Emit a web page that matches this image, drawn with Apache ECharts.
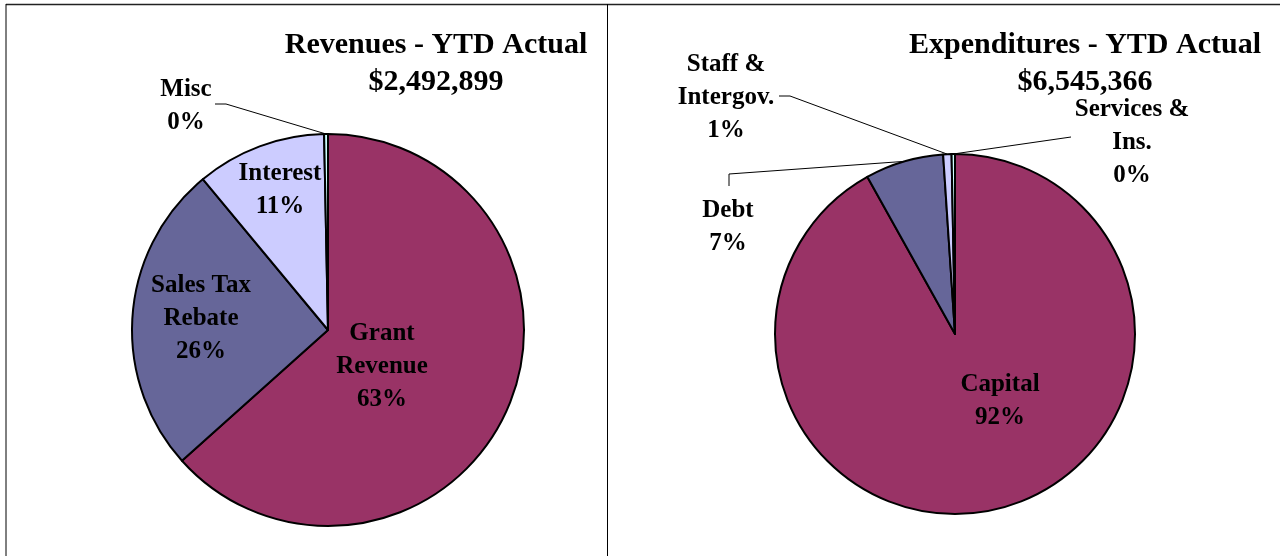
<!DOCTYPE html>
<html>
<head>
<meta charset="utf-8">
<script src="https://cdn.jsdelivr.net/npm/echarts@6/dist/echarts.min.js"></script>
<style>
  html, body { margin: 0; padding: 0; background: #ffffff; }
  #chart { width: 1280px; height: 556px; }
</style>
</head>
<body>
<div id="chart"></div>
<script>
// Year-to-date revenue breakdown
const revenueCategories = ['Grant\nRevenue', 'Sales Tax\nRebate', 'Interest', 'Misc'];
const revenueValues = [1580000, 638000, 267000, 7899];
const revenueTitle = 'Revenues - YTD Actual';
const revenueTotal = '$2,492,899';

// Year-to-date expenditure breakdown
const expenditureCategories = ['Capital', 'Debt', 'Staff &\nIntergov.', 'Services &\nIns.'];
const expenditureValues = [6015000, 461500, 49000, 19866];
const expenditureTitle = 'Expenditures - YTD Actual';
const expenditureTotal = '$6,545,366';

const sliceColors = ['#993366', '#666699', '#CCCCFF', '#CCFFFF'];
const serifFont = '"Liberation Serif", "Times New Roman", serif';

// Where each slice label sits; "leader" gives the bend and end of its guide line
const revenueLabelSpots = [
  { x: 382, y: 367 },
  { x: 201, y: 319 },
  { x: 280, y: 190 },
  { x: 186, y: 106, leader: [[226, 104], [215, 104]] }
];
const expenditureLabelSpots = [
  { x: 1000, y: 401 },
  { x: 728, y: 227, leader: [[729, 174], [729, 186]] },
  { x: 726, y: 98, leader: [[790, 96], [779, 96]] },
  { x: 1132, y: 143, leader: [[1071, 137], [1071, 137]] }
];

function buildData(names, values, spots) {
  return names.map(function (name, i) {
    return {
      name: name,
      value: values[i],
      itemStyle: { color: sliceColors[i] },
      labelLine: { show: !!spots[i].leader }
    };
  });
}

function placeLabels(spots) {
  return function (params) {
    const spot = spots[params.dataIndex];
    const out = { x: spot.x, y: spot.y, align: 'center', verticalAlign: 'middle' };
    if (spot.leader && params.labelLinePoints) {
      out.labelLinePoints = [params.labelLinePoints[0]].concat(spot.leader);
    }
    return out;
  };
}

function pieSeries(center, radius, names, values, spots) {
  return {
    type: 'pie',
    center: center,
    radius: radius,
    startAngle: 90,
    clockwise: true,
    avoidLabelOverlap: false,
    animation: false,
    percentPrecision: 0,
    itemStyle: { borderColor: '#000000', borderWidth: 2 },
    emphasis: { disabled: true },
    label: {
      show: true,
      position: 'outside',
      alignTo: 'none',
      formatter: '{b}\n{d}%',
      color: '#000000',
      fontFamily: serifFont,
      fontWeight: 'bold',
      fontSize: 25,
      lineHeight: 33
    },
    labelLine: {
      show: true,
      length: 20,
      length2: 10,
      smooth: false,
      lineStyle: { color: '#000000', width: 1 }
    },
    labelLayout: placeLabels(spots),
    data: buildData(names, values, spots)
  };
}

const titleStyle = {
  color: '#000000',
  fontFamily: serifFont,
  fontWeight: 'bold',
  fontSize: 30,
  lineHeight: 37
};

const chart = echarts.init(document.getElementById('chart'), null, { renderer: 'canvas' });
chart.setOption({
  backgroundColor: '#ffffff',
  animation: false,
  title: [
    {
      text: revenueTitle + '\n' + revenueTotal,
      left: 436, top: 27, textAlign: 'center', padding: 0,
      textStyle: titleStyle
    },
    {
      text: expenditureTitle + '\n' + expenditureTotal,
      left: 1085, top: 27, textAlign: 'center', padding: 0,
      textStyle: titleStyle
    }
  ],
  graphic: [
    { type: 'line', shape: { x1: 6, y1: 4.5, x2: 1280, y2: 4.5 }, style: { stroke: '#222222', lineWidth: 1.5 }, silent: true },
    { type: 'line', shape: { x1: 6, y1: 4, x2: 6, y2: 556 }, style: { stroke: '#000000', lineWidth: 1 }, silent: true },
    { type: 'line', shape: { x1: 607.5, y1: 4, x2: 607.5, y2: 556 }, style: { stroke: '#000000', lineWidth: 1 }, silent: true }
  ],
  series: [
    pieSeries([328, 330], 196, revenueCategories, revenueValues, revenueLabelSpots),
    pieSeries([955, 334], 180, expenditureCategories, expenditureValues, expenditureLabelSpots)
  ]
});
</script>
</body>
</html>
